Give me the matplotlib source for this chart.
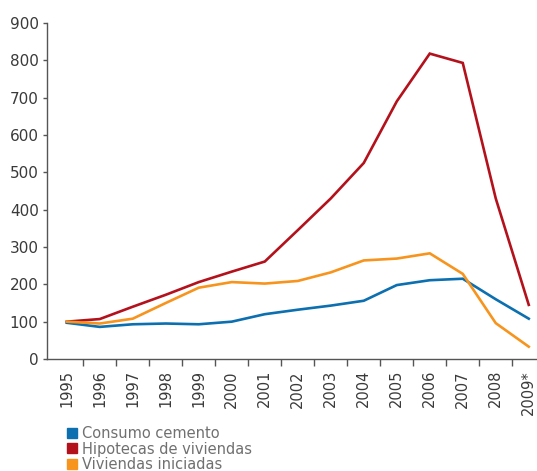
import matplotlib
matplotlib.use("Agg")
import matplotlib.pyplot as plt
from matplotlib.lines import Line2D

plt.rcParams['font.family'] = ['Liberation Sans Narrow', 'DejaVu Sans']

years = ["1995", "1996", "1997", "1998", "1999", "2000", "2001", "2002",
         "2003", "2004", "2005", "2006", "2007", "2008", "2009*"]
cemento = [97, 86, 93, 95, 93, 100, 120, 132, 143, 156, 198, 211, 215, 160, 108]
hipotecas = [100, 107, 140, 172, 206, 234, 261, 345, 430, 525, 690, 818, 793, 430, 145]
iniciadas = [100, 95, 108, 150, 191, 206, 202, 209, 232, 264, 269, 283, 228, 96, 33]

names = ["Consumo cemento", "Hipotecas de viviendas", "Viviendas iniciadas"]
colors = ["#0b6fb0", "#b3111b", "#f7941d"]
txt = "#3a3a3a"

fig = plt.figure(figsize=(5.37, 4.71), dpi=100)
ax = fig.add_axes([0.0875, 0.2378, 0.9125, 0.7134])

x = list(range(len(years)))
for serie, c in zip([cemento, hipotecas, iniciadas], colors):
    ax.plot(x, serie, color=c, lw=1.9, solid_joinstyle='miter')

ax.set_ylim(0, 900)
ax.set_xlim(-0.6, 14.25)
ax.set_yticks(range(0, 901, 100))
ax.set_xticks(x)
ax.set_xticklabels(years, rotation=90)
ax.set_xticks([i + 0.5 for i in range(14)], minor=True)
ax.tick_params(axis='x', which='major', length=0, pad=8, labelsize=10.5, colors=txt)
ax.tick_params(axis='x', which='minor', length=5, width=1, color="#555555", direction='out')
ax.tick_params(axis='y', length=3, width=1, color="#555555", labelsize=11, colors=txt, pad=3)

for s in ["top", "right"]:
    ax.spines[s].set_visible(False)
for s in ["left", "bottom"]:
    ax.spines[s].set_color("#555555")
    ax.spines[s].set_linewidth(1.0)

handles = [Line2D([], [], marker='s', linestyle='none', markersize=7,
                  markerfacecolor=c, markeredgecolor=c) for c in colors]
fig.legend(handles, names, loc='lower left', bbox_to_anchor=(0.114, -0.015),
           frameon=False, handlelength=0.7, handletextpad=0.3, labelspacing=0.05,
           fontsize=10.5, labelcolor="#707070", borderaxespad=0)

fig.savefig("out.png", dpi=100)
